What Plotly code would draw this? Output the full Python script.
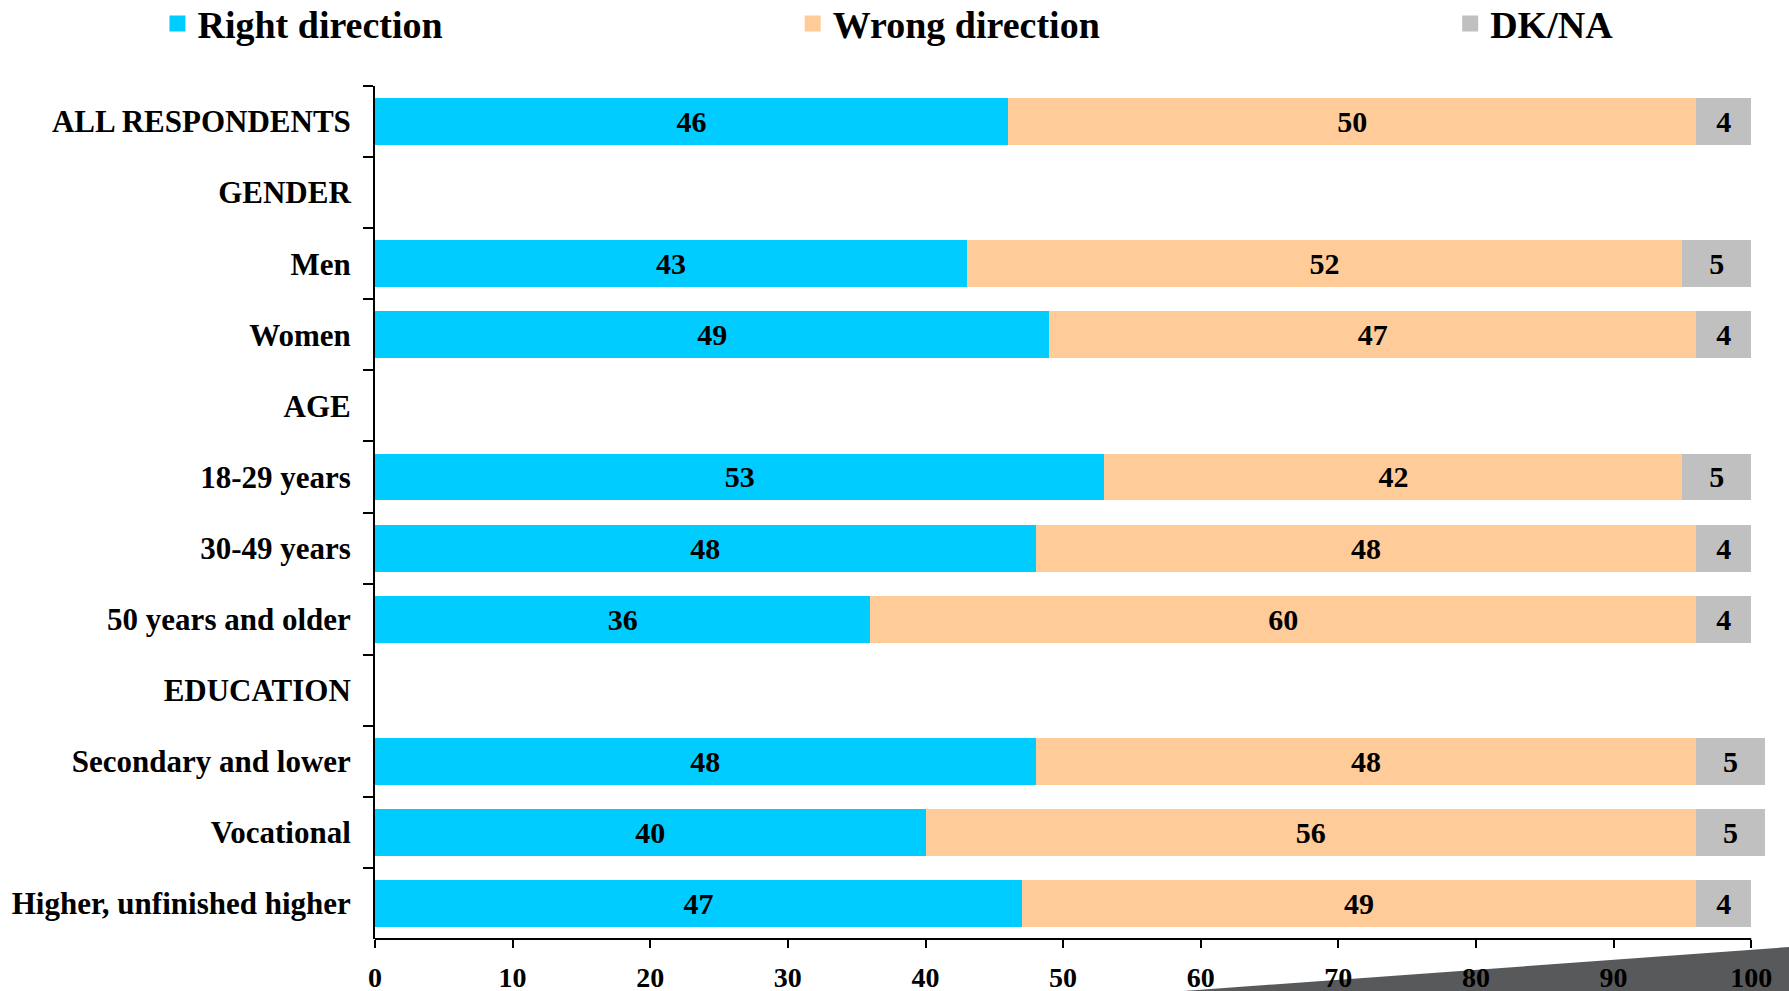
import plotly.graph_objects as go

categories = ["ALL RESPONDENTS", "GENDER", "Men", "Women", "AGE", "18-29 years",
              "30-49 years", "50 years and older", "EDUCATION", "Secondary and lower",
              "Vocational", "Higher, unfinished higher"]
right_dir = [46, None, 43, 49, None, 53, 48, 36, None, 48, 40, 47]
wrong_dir = [50, None, 52, 47, None, 42, 48, 60, None, 48, 56, 49]
dk_na = [4, None, 5, 4, None, 5, 4, 4, None, 5, 5, 4]
series_names = ["Right direction", "Wrong direction", "DK/NA"]
colors = ["#00CCFF", "#FFCC99", "#C0C0C0"]
x_ticks = [0, 10, 20, 30, 40, 50, 60, 70, 80, 90, 100]

FONT = "Liberation Serif, Times New Roman, serif"

fig = go.Figure()
for name, vals, col in zip(series_names, [right_dir, wrong_dir, dk_na], colors):
    fig.add_trace(go.Bar(
        y=categories, x=vals, orientation="h", name=name,
        marker=dict(color=col, line=dict(width=0)),
        text=[("" if v is None else str(v)) for v in vals],
        textposition="inside", insidetextanchor="middle",
        textfont=dict(family=FONT, size=30, color="black", weight="bold"),
        showlegend=False, hoverinfo="x+y+name",
    ))

legend_ids = ["legend", "legend2", "legend3"]
for name, col, lg in zip(series_names, colors, legend_ids):
    fig.add_trace(go.Scatter(
        x=[None], y=[None], mode="markers", name=name,
        marker=dict(symbol="square", size=16, color=col),
        legend=lg, showlegend=True,
    ))

leg_common = dict(orientation="h", yanchor="middle", xanchor="left",
                  bgcolor="rgba(0,0,0,0)",
                  font=dict(family=FONT, size=38, color="black", weight="bold"))

fig.update_layout(
    barmode="stack",
    bargap=0.34,
    width=1789, height=991,
    margin=dict(l=375, r=24, t=86, b=52, autoexpand=False),
    paper_bgcolor="white", plot_bgcolor="white",
    uniformtext=dict(minsize=30, mode="show"),
    legend=dict(x=-0.1565, y=1.073, **leg_common),
    legend2=dict(x=0.3005, y=1.073, **leg_common),
    legend3=dict(x=0.7735, y=1.073, **leg_common),
    xaxis=dict(range=[0, 101], tickvals=x_ticks, showgrid=False, zeroline=False,
               showline=False, ticks="outside", ticklen=8, tickwidth=2, tickcolor="black",
               ticklabelstandoff=5,
               tickfont=dict(family=FONT, size=28, color="black", weight="bold")),
    yaxis=dict(autorange="reversed", type="category", showgrid=False, zeroline=False,
               showline=True, linecolor="black", linewidth=2,
               ticks="outside", tickson="boundaries", ticklen=10, tickwidth=2, tickcolor="black",
               ticklabelstandoff=16,
               tickfont=dict(family=FONT, size=31, color="black", weight="bold")),
    shapes=[
        dict(type="line", xref="x", yref="paper", x0=0, x1=100, y0=0, y1=0,
             line=dict(color="black", width=2)),
        dict(type="path", xref="paper", yref="paper", layer="below",
             path="M 0.5813,-0.061 L 1.0174,-0.0094 L 1.0174,-0.061 Z",
             fillcolor="#58595B", line=dict(width=0)),
    ],
)

fig.write_html("out.html", config={"displayModeBar": False},
               post_script="document.body.style.margin='0';document.body.style.overflow='hidden';")
